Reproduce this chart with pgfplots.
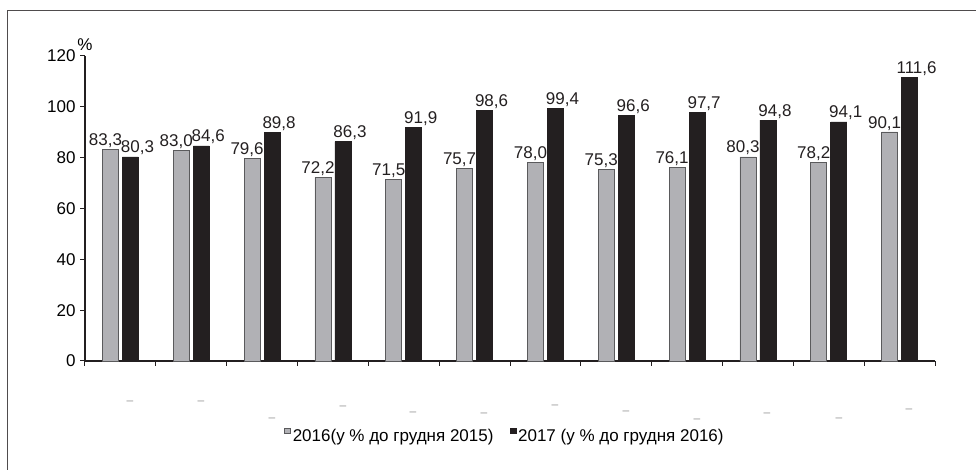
\documentclass[border=0pt]{standalone}
\usepackage{fontspec}
\setmainfont{Liberation Sans}
\usepackage{pgfplots}
\pgfplotsset{compat=1.18}
\definecolor{barblack}{HTML}{231F20}
\definecolor{bargray}{HTML}{B1B1B5}
\definecolor{baredge}{HTML}{5A5A5C}
\definecolor{axcol}{HTML}{231F20}
\newcommand{\chfont}{\fontsize{17}{20}\selectfont}
\tikzset{smalldash/.style={text=gray!80, inner sep=0pt, font=\fontsize{12}{12}\selectfont}}
\begin{document}
\begin{tikzpicture}
\useasboundingbox (-85pt,-109pt) rectangle (891pt,361pt);
\draw[color=axcol!80, line width=0.8pt] (-78pt,-109pt) -- (-78pt,351pt) -- (891pt,351pt);
\begin{axis}[
  at={(0pt,0pt)}, anchor=south west,
  scale only axis,
  width=850pt, height=305pt,
  xmin=0.5, xmax=12.5,
  ymin=0, ymax=120,
  ytick={0,20,...,120},
  xtick={0.5,1.5,...,12.5},
  xticklabels={},
  axis lines*=left,
  axis line style={color=axcol, line width=1.1pt},
  tick style={color=axcol, line width=1pt},
  tick align=outside,
  major tick length=5pt,
  clip=false,
  font=\chfont,
  tick label style={font=\chfont},
  yticklabel style={xshift=-1pt},
  /pgf/number format/assume math mode=true,
  ybar=4pt,
  bar width=16pt,
  nodes near coords,
  nodes near coords style={font=\chfont, inner sep=1.5pt, color=axcol,
    /pgf/number format/fixed, /pgf/number format/fixed zerofill,
    /pgf/number format/precision=1, /pgf/number format/use comma,
    /pgf/number format/assume math mode=true},
  legend columns=2,
  legend style={at={(rel axis cs:0.494,-0.246)}, anchor=center, draw=none, fill=none,
    font=\chfont,
    /tikz/every even column/.append style={column sep=14pt}},
  legend image code/.code={\draw[#1, bar width=0pt] (0pt,3pt) rectangle (6pt,8pt);},
]
\addplot[fill=bargray, draw=baredge, line width=0.6pt,
  every node near coord/.append style={xshift=-5pt}] coordinates {
 (1,83.3) (2,83.0) (3,79.6) (4,72.2) (5,71.5) (6,75.7)
 (7,78.0) (8,75.3) (9,76.1) (10,80.3) (11,78.2) (12,90.1)};
\addplot[fill=barblack, draw=barblack, line width=0.6pt,
  every node near coord/.append style={xshift=7pt}] coordinates {
 (1,80.3) (2,84.6) (3,89.8) (4,86.3) (5,91.9) (6,98.6)
 (7,99.4) (8,96.6) (9,97.7) (10,94.8) (11,94.1) (12,111.6)};
\legend{2016(у \% до грудня 2015), 2017 (у \% до грудня 2016)}
\node[anchor=south, inner sep=0pt, yshift=5pt, font=\chfont] at (rel axis cs:0,1) {\%};
\node[smalldash] at (axis cs:1.135,-16.5) {–};
\node[smalldash] at (axis cs:2.138,-16.5) {–};
\node[smalldash] at (axis cs:3.14,-23.2) {–};
\node[smalldash] at (axis cs:4.142,-18.5) {–};
\node[smalldash] at (axis cs:5.131,-20.9) {–};
\node[smalldash] at (axis cs:6.133,-21.3) {–};
\node[smalldash] at (axis cs:7.136,-18.1) {–};
\node[smalldash] at (axis cs:8.138,-20.5) {–};
\node[smalldash] at (axis cs:9.14,-23.6) {–};
\node[smalldash] at (axis cs:10.129,-21.3) {–};
\node[smalldash] at (axis cs:11.145,-23.2) {–};
\node[smalldash] at (axis cs:12.133,-19.7) {–};
\end{axis}
\end{tikzpicture}
\end{document}
